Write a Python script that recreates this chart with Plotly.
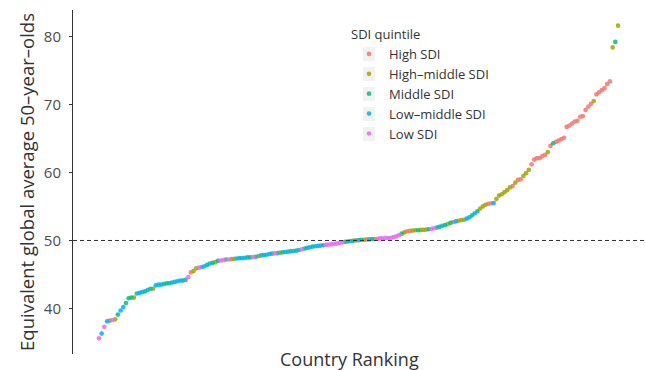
import plotly.graph_objects as go

# Equivalent global-average 50-year-olds per country, sorted ascending (country ranking)
values = [
    35.6, 36.3, 37.3, 38.1, 38.2, 38.3, 38.4, 39.1, 39.7, 40.2,
    40.8, 41.5, 41.6, 41.6, 42.2, 42.3, 42.4, 42.5, 42.7, 42.9,
    42.9, 43.4, 43.5, 43.5, 43.6, 43.7, 43.7, 43.8, 43.9, 44.0,
    44.1, 44.1, 44.2, 44.6, 45.3,
    45.5, 45.9, 46.0, 46.1, 46.2, 46.4, 46.6, 46.7, 46.8, 47.0,
    47.05, 47.1, 47.2, 47.2, 47.25,
    47.3, 47.35, 47.4, 47.4, 47.45, 47.5, 47.5, 47.55, 47.6, 47.7,
    47.8, 47.85, 47.9, 48.0, 48.05, 48.1, 48.15, 48.2, 48.25, 48.3,
    48.35, 48.4, 48.45, 48.5, 48.6, 48.7, 48.8, 48.9, 49.0, 49.1,
    49.15, 49.2, 49.25, 49.3, 49.35, 49.4, 49.45, 49.5, 49.55, 49.65,
    49.7, 49.8, 49.85, 49.9, 49.95, 50.0, 50.05, 50.1, 50.1, 50.15,
    50.15, 50.2, 50.2, 50.25, 50.3, 50.3, 50.35, 50.35, 50.4, 50.5,
    50.6, 50.8, 51.0, 51.2, 51.35, 51.4, 51.45, 51.5, 51.5, 51.55,
    51.55, 51.6, 51.65, 51.7, 51.8, 51.9, 52.0, 52.15, 52.25, 52.4,
    52.6, 52.7, 52.8, 52.9, 53.0, 53.05, 53.2, 53.4, 53.7,
    54.0, 54.3, 54.7, 55.0, 55.25, 55.4, 55.45, 55.5,
    56.1, 56.6, 56.8, 57.1, 57.4, 57.8, 58.0, 58.5, 58.9, 59.0,
    59.5, 59.9, 60.4, 61.2, 61.9, 62.1, 62.1, 62.4, 62.6, 63.0,
    63.9, 64.3, 64.5, 64.7, 64.9, 65.1, 66.7, 66.9, 67.2, 67.5,
    67.6, 68.2, 68.3, 69.2, 69.7, 70.1, 70.5, 71.5, 71.8, 72.1,
    72.4, 73.0, 73.4, 78.4, 79.2, 81.6,
]

# SDI quintile of each country, same order as values
sdi = [
    "L", "LM", "L", "LM", "HM", "L", "HM", "M", "LM", "LM",
    "M", "M", "M", "HM", "LM", "LM", "LM", "M", "LM", "M",
    "HM", "LM", "LM", "LM", "M", "M", "M", "LM", "LM", "LM",
    "LM", "M", "LM", "L", "H",
    "HM", "HM", "L", "LM", "LM", "M", "LM", "M", "HM", "M",
    "L", "L", "M", "L", "HM", "HM", "LM", "M", "LM", "LM",
    "M", "M", "L", "LM", "HM", "LM", "M", "LM", "LM", "M",
    "L", "LM", "HM", "M", "LM",
    "LM", "M", "LM", "M", "LM", "L", "M", "LM", "LM", "M",
    "LM", "LM", "LM", "M", "L", "L", "L", "L", "L", "L",
    "L", "M", "M", "LM", "M", "HM", "LM", "M", "HM", "H",
    "LM", "M", "HM", "L", "L", "L", "L", "L", "L", "L",
    "L", "L", "M", "HM", "H", "H", "HM", "HM", "M", "HM",
    "HM", "HM", "M", "L", "L", "M", "M", "LM", "M", "HM",
    "M", "H", "LM", "HM", "HM", "HM", "LM", "LM", "M", "LM",
    "M", "HM", "HM", "HM", "H", "H", "LM",
    "HM", "HM", "HM", "HM", "HM", "HM", "H", "HM", "H", "H",
    "HM", "HM", "HM", "H", "H", "H", "H", "H", "H", "HM",
    "H", "M", "H", "H", "H", "H", "H", "H", "H", "H",
    "H", "H", "H", "H", "H", "H", "HM", "H", "H", "H",
    "H", "H", "H", "HM", "M", "HM",
]

quintile_codes = ["H", "HM", "M", "LM", "L"]
quintile_labels = ["High SDI", "High\u2013middle SDI", "Middle SDI",
                   "Low\u2013middle SDI", "Low SDI"]
reference_level = 50

hue = {"H": "#F8766D", "HM": "#A3A500", "M": "#00BF7D",
       "LM": "#00B0F6", "L": "#E76BF3"}

n = len(values)
ranks = list(range(1, n + 1))

fig = go.Figure()
for code, label in zip(quintile_codes, quintile_labels):
    xs = [r for r, s in zip(ranks, sdi) if s == code]
    ys = [v for v, s in zip(values, sdi) if s == code]
    fig.add_trace(go.Scatter(
        x=xs, y=ys, mode="markers", name=label,
        marker=dict(color=hue[code], size=4.7, opacity=0.85, line=dict(width=0)),
    ))

# reference line at the global average
fig.add_hline(y=reference_level, line=dict(color="#333333", width=1, dash="4px,3px"))

# plot-area geometry in pixels (used to place the legend key backgrounds)
W, H = 645, 370
ML, MR, MT, MB = 73, 1, 10, 16
pw, ph = W - ML - MR, H - MT - MB

legend_font = 13
legend_x, legend_y = 0.4834, 0.965
key_cx = ML + legend_x * pw + 20               # legend symbol column
first_key_cy, key_step = 54, 20
for i in range(len(quintile_codes)):
    cy = first_key_cy + i * key_step
    fig.add_shape(
        type="rect", xref="paper", yref="paper", layer="below",
        x0=(key_cx - 6 - ML) / pw, x1=(key_cx + 6 - ML) / pw,
        y0=(H - MB - (cy + 7)) / ph, y1=(H - MB - (cy - 7)) / ph,
        fillcolor="#F2F2F2", line=dict(width=0),
    )

font_family = "Open Sans"
pad = 0.05 * (n - 1)
ymin, ymax = min(values), max(values)
ypad = 0.05 * (ymax - ymin)

fig.update_layout(
    width=W, height=H,
    margin=dict(l=ML, r=MR, t=MT, b=MB, pad=0),
    paper_bgcolor="white", plot_bgcolor="white",
    font=dict(family=font_family, color="#333333"),
    showlegend=True,
    legend=dict(
        title=dict(text="SDI quintile", font=dict(size=legend_font, color="#333333")),
        font=dict(size=legend_font, color="#333333"),
        x=legend_x, y=legend_y, xanchor="left", yanchor="top",
        bgcolor="rgba(0,0,0,0)", itemwidth=30,
    ),
    xaxis=dict(
        range=[1 - pad, n + pad],
        showticklabels=False, ticks="", showline=False,
        showgrid=False, zeroline=False,
    ),
    yaxis=dict(
        range=[ymin - ypad, ymax + ypad],
        tickvals=[40, 50, 60, 70, 80],
        showline=True, linecolor="#333333", linewidth=1,
        ticks="outside", ticklen=3, tickcolor="#333333",
        tickfont=dict(size=15, color="#4D4D4D"), ticklabelstandoff=5,
        showgrid=False, zeroline=False,
        title=dict(text="Equivalent global average 50\u2013year\u2013olds",
                   font=dict(size=18.5, color="#333333"), standoff=4),
    ),
    annotations=[dict(
        text="Country Ranking", x=0.485, xref="paper", y=-0.015, yref="paper",
        xanchor="center", yanchor="middle", showarrow=False,
        font=dict(size=18, color="#333333"),
    )],
)

fig.write_html("out.html")
